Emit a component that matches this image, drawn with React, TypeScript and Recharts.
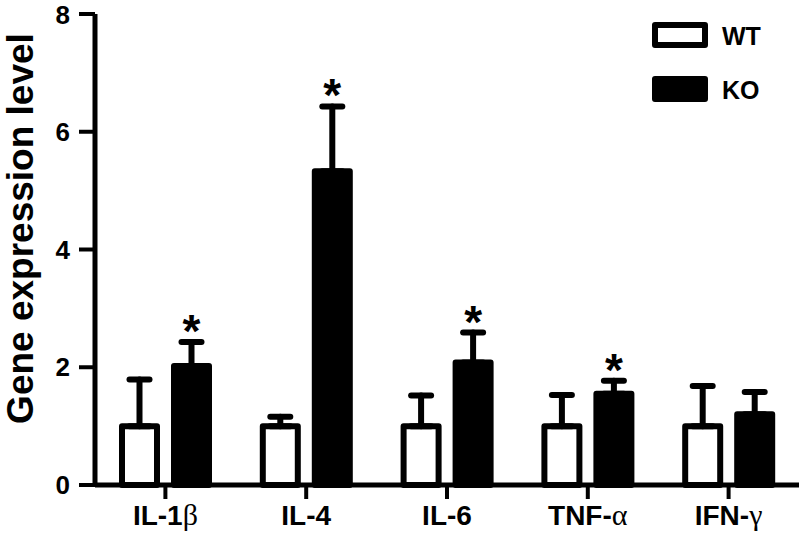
import { Bar, BarChart, ErrorBar, LabelList, Legend, XAxis, YAxis } from "recharts";

const CATEGORIES = ["IL-1β", "IL-4", "IL-6", "TNF-α", "IFN-γ"];
const WT_MEAN = [1, 1, 1, 1, 1];
const WT_SEM = [0.79, 0.16, 0.52, 0.53, 0.68];
const KO_MEAN = [2.02, 5.33, 2.08, 1.55, 1.2];
const KO_SEM = [0.41, 1.1, 0.51, 0.22, 0.38];
const KO_SIGNIFICANT = [true, true, true, true, false];
const Y_TICKS = [0, 2, 4, 6, 8];

const FONT = '"Liberation Sans", Arial, Helvetica, sans-serif';
const GREEK_FONT = '"Liberation Serif", "Times New Roman", serif';

const SERIES_ORDER = ["wt", "ko"];
const SERIES_FILL: Record<string, string> = { wt: "#ffffff", ko: "#000000" };

const data = CATEGORIES.map((name, i) => ({
  name,
  wt: WT_MEAN[i],
  wtErr: [0, WT_SEM[i]],
  ko: KO_MEAN[i],
  koErr: [0, KO_SEM[i]],
}));

function CategoryTick({ x, y, payload }: any) {
  const text = String(payload.value);
  const match = text.match(/^(.*?)([\u0370-\u03ff]*)$/u);
  const latin = match ? match[1] : text;
  const greek = match ? match[2] : "";
  return (
    <text
      x={x}
      y={y}
      dy="0.71em"
      textAnchor="middle"
      fontFamily={FONT}
      fontSize={28}
      fontWeight="bold"
      fill="#000"
    >
      {latin}
      {greek && (
        <tspan fontFamily={GREEK_FONT} fontWeight="normal" fontSize={30}>
          {greek}
        </tspan>
      )}
    </text>
  );
}

function AxisTitle({ viewBox }: any) {
  const cx = viewBox.x + 33;
  const cy = viewBox.y + viewBox.height / 2 - 21;
  return (
    <text
      x={cx}
      y={cy}
      transform={`rotate(-90, ${cx}, ${cy})`}
      textAnchor="middle"
      fontFamily={FONT}
      fontSize={37}
      fontWeight="bold"
      fill="#000"
    >
      Gene expression level
    </text>
  );
}

function SigMark(props: any) {
  const index = props.index;
  if (!KO_SIGNIFICANT[index]) return null;
  const vb = props.viewBox ?? props;
  const height = Math.abs(vb.height);
  const top = Math.min(vb.y, vb.y + vb.height);
  const pxPerUnit = height / KO_MEAN[index];
  const capY = top - KO_SEM[index] * pxPerUnit;
  return (
    <text
      x={vb.x + vb.width / 2}
      y={capY + 5}
      textAnchor="middle"
      fontFamily={FONT}
      fontSize={46}
      fontWeight="bold"
      fill="#000"
    >
      *
    </text>
  );
}

function LegendBoxes({ payload }: any) {
  const items = [...(payload ?? [])].sort(
    (a: any, b: any) => SERIES_ORDER.indexOf(a.dataKey) - SERIES_ORDER.indexOf(b.dataKey),
  );
  return (
    <svg width={150} height={100}>
      {items.map((entry: any, i: number) => (
        <g key={entry.value} transform={`translate(0, ${i * 54})`}>
          <rect
            x={10}
            y={10}
            width={50}
            height={20}
            fill={SERIES_FILL[entry.dataKey] ?? "#000"}
            stroke="#000"
            strokeWidth={6}
            strokeLinejoin="round"
          />
          <text
            x={77}
            y={21}
            dy="0.355em"
            fontFamily={FONT}
            fontSize={25}
            fontWeight="bold"
            fill="#000"
          >
            {entry.value}
          </text>
        </g>
      ))}
    </svg>
  );
}

export default function App() {
  return (
    <div style={{ position: "absolute", left: 0, top: 0, background: "#fff" }}>
      <BarChart
        width={803}
        height={539}
        data={data}
        margin={{ top: 14, right: 4, bottom: 0, left: 0 }}
        barGap={17}
      >
        <XAxis
          dataKey="name"
          height={54}
          tickSize={14}
          tickMargin={6}
          axisLine={{ stroke: "#000", strokeWidth: 5 }}
          tickLine={{ stroke: "#000", strokeWidth: 4 }}
          tick={<CategoryTick />}
          interval={0}
        />
        <YAxis
          width={95}
          domain={[0, 8]}
          ticks={Y_TICKS}
          tickSize={16}
          tickMargin={9}
          axisLine={{ stroke: "#000", strokeWidth: 5 }}
          tickLine={{ stroke: "#000", strokeWidth: 4 }}
          tick={{ fill: "#000", fontSize: 26, fontWeight: "bold", fontFamily: FONT }}
          label={<AxisTitle />}
        />
        <Legend
          layout="vertical"
          align="center"
          verticalAlign="middle"
          content={<LegendBoxes />}
          wrapperStyle={{ left: 645, top: 15, width: 150, height: 100 }}
        />
        <Bar
          dataKey="wt"
          name="WT"
          fill="#ffffff"
          stroke="#000"
          strokeWidth={6}
          strokeLinejoin="round"
          barSize={35}
          isAnimationActive={false}
        >
          <ErrorBar dataKey="wtErr" width={10} stroke="#000" strokeWidth={6} strokeLinecap="round" />
        </Bar>
        <Bar
          dataKey="ko"
          name="KO"
          fill="#000000"
          stroke="#000"
          strokeWidth={6}
          strokeLinejoin="round"
          barSize={35}
          isAnimationActive={false}
        >
          <ErrorBar dataKey="koErr" width={10} stroke="#000" strokeWidth={6} strokeLinecap="round" />
          <LabelList dataKey="ko" content={<SigMark />} />
        </Bar>
      </BarChart>
    </div>
  );
}
